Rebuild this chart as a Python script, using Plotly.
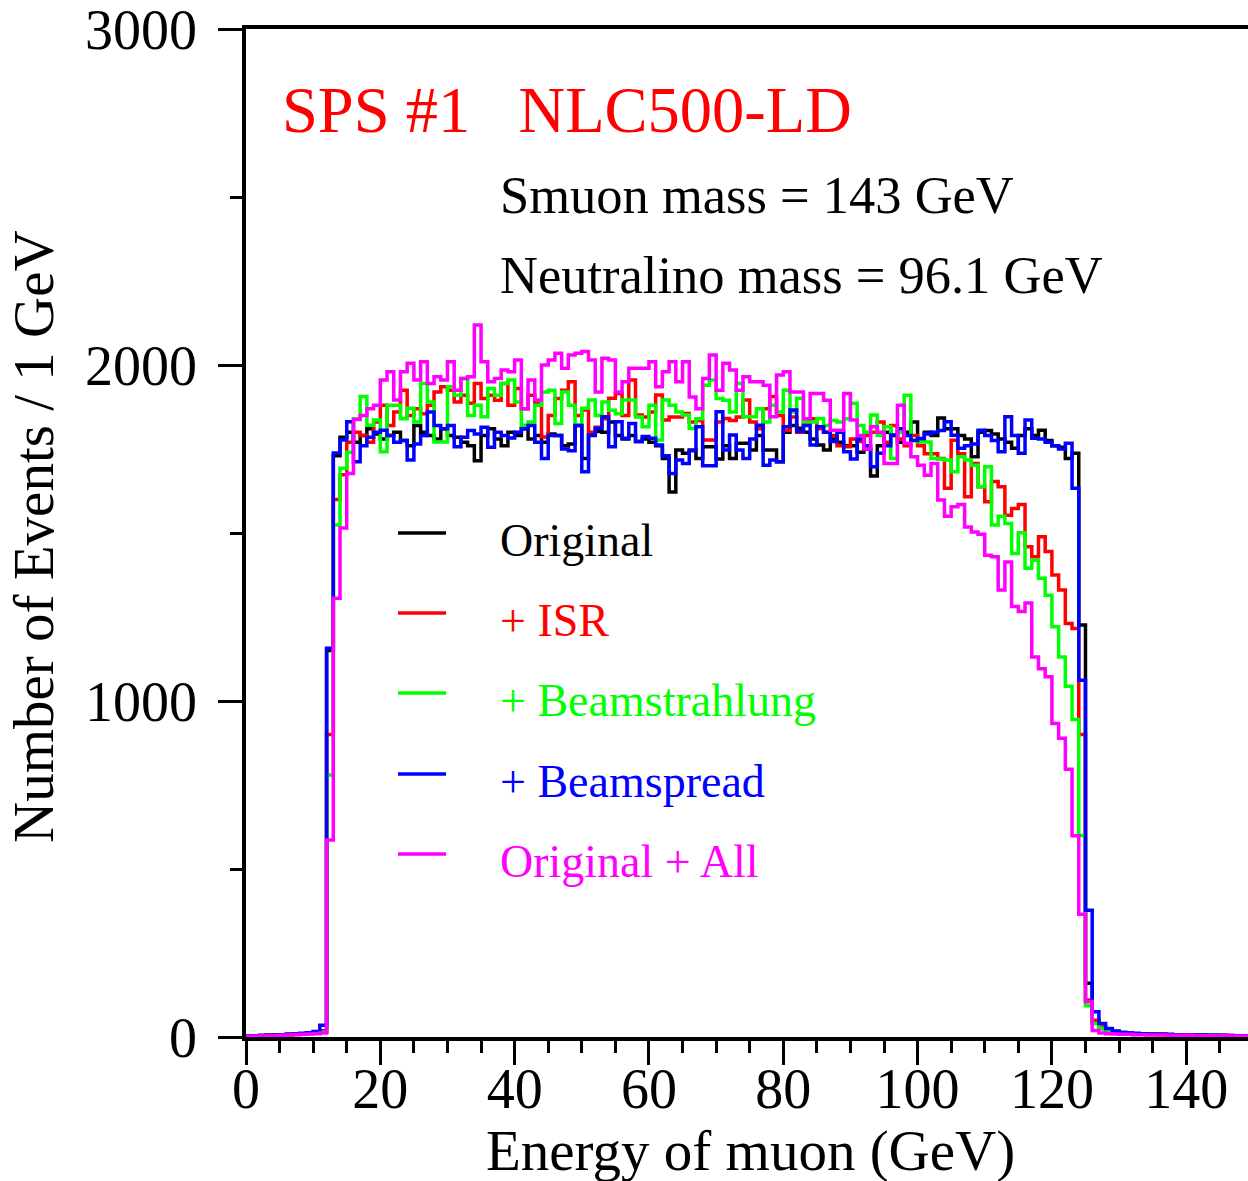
import plotly.graph_objects as go

# 1 GeV bins from 0 to 150 GeV
BIN_EDGES = list(range(0, 151))

SERIES_NAMES = ["Original", "+ ISR", "+ Beamstrahlung", "+ Beamspread", "Original + All"]
SERIES_COLORS = ["#000000", "#ff0000", "#00ff00", "#0000ff", "#ff00ff"]

original = [
    3, 4, 4, 5, 6, 6, 8, 9, 10, 12,
    14, 18, 1150, 1730, 1785, 1800, 1770, 1790, 1810, 1795,
    1780, 1790, 1800, 1775, 1760, 1820, 1800, 1790, 1780, 1810,
    1790, 1785, 1770, 1760, 1715, 1790, 1810, 1780, 1760, 1800,
    1790, 1810, 1780, 1790, 1770, 1795, 1790, 1760, 1765, 1820,
    1722, 1790, 1802, 1800, 1830, 1790, 1780, 1790, 1772, 1780,
    1770, 1760, 1722, 1622, 1747, 1737, 1747, 1722, 1757, 1757,
    1720, 1760, 1722, 1767, 1767, 1747, 1790, 1747, 1747, 1712,
    1800, 1820, 1812, 1800, 1780, 1762, 1747, 1780, 1770, 1760,
    1760, 1740, 1750, 1670, 1760, 1800, 1790, 1770, 1800, 1830,
    1780, 1800, 1790, 1842, 1810, 1810, 1790, 1780, 1727, 1800,
    1805, 1795, 1780, 1770, 1752, 1790, 1810, 1790, 1806, 1775,
    1760, 1755, 1722, 1737, 1226, 160, 45, 25, 18, 15,
    12, 11, 10, 9, 9, 8, 8, 7, 7, 6,
    6, 6, 5, 5, 5, 4, 4, 4, 4, 3,
]

isr = [
    3, 3, 4, 5, 5, 6, 7, 8, 9, 11,
    13, 15, 900, 1600, 1673, 1770, 1800, 1790, 1770, 1830,
    1880, 1820, 1860, 1925, 1850, 1870, 1855, 1880, 1920, 1935,
    1925, 1890, 1910, 1886, 1945, 1900, 1910, 1895, 1945, 1880,
    1930, 1870, 1910, 1886, 1786, 1850, 1900, 1925, 1950, 1850,
    1866, 1800, 1815, 1840, 1901, 1915, 1850, 1955, 1851, 1845,
    1860, 1911, 1836, 1845, 1845, 1856, 1830, 1835, 1777, 1777,
    1830, 1841, 1835, 1845, 1896, 1830, 1810, 1870, 1906, 1850,
    1806, 1845, 1800, 1830, 1840, 1810, 1800, 1790, 1760, 1757,
    1780, 1772, 1790, 1800, 1830, 1770, 1820, 1780, 1760, 1790,
    1760, 1736, 1736, 1722, 1633, 1776, 1736, 1608, 1707, 1638,
    1593, 1653, 1638, 1553, 1573, 1585, 1459, 1429, 1489, 1445,
    1375, 1330, 1231, 1216, 900, 110, 50, 30, 20, 16,
    13, 11, 10, 9, 9, 8, 8, 7, 7, 7,
    6, 6, 6, 5, 5, 5, 5, 4, 4, 4,
]

beamstrahlung = [
    3, 3, 4, 4, 5, 6, 7, 8, 9, 10,
    12, 14, 780, 1524, 1693, 1740, 1840, 1906, 1821, 1836,
    1742, 1880, 1880, 1840, 1871, 1830, 1945, 1890, 1771, 1771,
    1935, 1910, 1960, 1850, 1880, 1846, 1930, 1910, 1945, 1955,
    1890, 1821, 1830, 1880, 1920, 1925, 1826, 1920, 1880, 1821,
    1871, 1896, 1850, 1890, 1865, 1855, 1896, 1896, 1845, 1816,
    1880, 1777, 1896, 1880, 1860, 1851, 1811, 1840, 1940, 1955,
    1900, 1895, 1860, 1945, 1846, 1846, 1870, 1830, 1880, 1860,
    1925, 1860, 1901, 1830, 1830, 1841, 1820, 1835, 1830, 1840,
    1886, 1820, 1800, 1851, 1791, 1816, 1722, 1800, 1910, 1776,
    1771, 1771, 1722, 1720, 1717, 1682, 1727, 1717, 1702, 1638,
    1697, 1524, 1550, 1528, 1439, 1501, 1395, 1419, 1365, 1315,
    1221, 1131, 1044, 945, 600, 93, 40, 25, 18, 14,
    12, 10, 9, 9, 8, 8, 7, 7, 6, 6,
    6, 5, 5, 5, 5, 4, 4, 4, 4, 3,
]

beamspread = [
    3, 4, 5, 5, 6, 7, 8, 9, 11, 13,
    16, 35, 1157, 1738, 1777, 1831, 1712, 1760, 1785, 1800,
    1806, 1790, 1770, 1775, 1717, 1765, 1790, 1860, 1820, 1810,
    1820, 1757, 1785, 1805, 1795, 1815, 1755, 1800, 1790, 1783,
    1800, 1810, 1820, 1770, 1722, 1790, 1790, 1750, 1745, 1820,
    1682, 1792, 1812, 1846, 1757, 1831, 1782, 1826, 1772, 1787,
    1782, 1762, 1730, 1677, 1717, 1707, 1745, 1816, 1700, 1700,
    1861, 1747, 1792, 1747, 1722, 1780, 1821, 1702, 1717, 1712,
    1816, 1866, 1802, 1820, 1762, 1816, 1800, 1772, 1800, 1742,
    1720, 1780, 1760, 1697, 1737, 1760, 1792, 1810, 1790, 1775,
    1781, 1795, 1800, 1805, 1831, 1791, 1752, 1760, 1765, 1806,
    1790, 1775, 1742, 1846, 1790, 1737, 1836, 1782, 1780, 1770,
    1760, 1750, 1767, 1633, 1062, 377, 75, 40, 25, 18,
    14, 12, 11, 10, 9, 9, 8, 8, 7, 7,
    6, 6, 6, 5, 5, 5, 4, 4, 4, 4,
]

original_all = [
    2, 3, 3, 4, 4, 5, 6, 7, 8, 9,
    10, 12, 586, 1306, 1515, 1677, 1838, 1850, 1870, 1880,
    1955, 1980, 1896, 1980, 2005, 1955, 2010, 1945, 1965, 1955,
    2010, 1925, 1960, 1965, 2119, 2010, 1950, 1960, 1985, 1980,
    2015, 1870, 1955, 1896, 2000, 2015, 2035, 1990, 2030, 2035,
    2040, 2015, 1920, 2020, 2015, 1920, 1950, 1990, 1990, 1990,
    2010, 1935, 1980, 2010, 1950, 2010, 1905, 1870, 1960, 2030,
    1925, 2005, 1985, 1925, 1965, 1950, 1950, 1940, 1846, 1970,
    1980, 1920, 1920, 1840, 1915, 1915, 1895, 1806, 1806, 1915,
    1836, 1790, 1750, 1816, 1800, 1707, 1707, 1880, 1767, 1727,
    1702, 1672, 1707, 1598, 1550, 1578, 1585, 1518, 1503, 1496,
    1434, 1429, 1330, 1414, 1281, 1266, 1292, 1131, 1096, 1072,
    933, 889, 797, 599, 365, 105, 19, 12, 10, 9,
    8, 8, 7, 7, 6, 6, 6, 5, 5, 5,
    5, 4, 4, 4, 4, 4, 3, 3, 3, 3,
]

SERIES_VALUES = [original, isr, beamstrahlung, beamspread, original_all]

# page is 1248 x 1181; body margin is zeroed so the figure fills the page
W, H = 1248, 1181
# plot frame in page pixels
PLOT_L, PLOT_R, PLOT_T, PLOT_B = 246, 1248, 29, 1037
FONT = "Liberation Serif"


def px_x(p):
    return (p - PLOT_L) / (PLOT_R - PLOT_L)


def px_y(p):
    return (PLOT_B - p) / (PLOT_B - PLOT_T)


fig = go.Figure()
for name, color, values in zip(SERIES_NAMES, SERIES_COLORS, SERIES_VALUES):
    fig.add_trace(
        go.Scatter(
            x=BIN_EDGES,
            y=values + [values[-1]],
            mode="lines",
            line=dict(color=color, width=3.5, shape="hv"),
            name=name,
            showlegend=False,
        )
    )

annotations = [
    dict(text="SPS #1\u00a0\u00a0\u00a0NLC500-LD", x=px_x(280), y=px_y(110),
         font=dict(size=64.5, color="#ff0000")),
    dict(text="Smuon mass = 143 GeV", x=px_x(498), y=px_y(195),
         font=dict(size=52.5, color="black")),
    dict(text="Neutralino mass = 96.1 GeV", x=px_x(498), y=px_y(275),
         font=dict(size=52.5, color="black")),
    # axis titles
    dict(text="Energy of muon (GeV)", x=px_x(750), y=px_y(1151), xanchor="center",
         font=dict(size=57, color="black")),
    dict(text="Number of Events / 1 GeV", x=px_x(33), y=px_y(537), xanchor="center",
         textangle=-90, font=dict(size=57, color="black")),
]
shapes = []
legend_rows = [540, 620, 700, 781, 861]
for name, color, row in zip(SERIES_NAMES, SERIES_COLORS, legend_rows):
    annotations.append(
        dict(text=name, x=px_x(498), y=px_y(row), font=dict(size=46, color=color))
    )
    shapes.append(
        dict(type="line", xref="paper", yref="paper",
             x0=px_x(398), x1=px_x(446), y0=px_y(row - 7), y1=px_y(row - 7),
             line=dict(color=color, width=3.5))
    )

for a in annotations:
    a.setdefault("xanchor", "left")
    a.update(xref="paper", yref="paper", yanchor="middle", showarrow=False)
    a["font"]["family"] = FONT

tick_font = dict(family=FONT, size=56, color="black")
fig.update_layout(
    width=W,
    height=H,
    paper_bgcolor="white",
    plot_bgcolor="white",
    font=dict(family=FONT, color="black"),
    margin=dict(l=PLOT_L, r=W - PLOT_R, t=PLOT_T, b=H - PLOT_B, autoexpand=False),
    showlegend=False,
    annotations=annotations,
    shapes=shapes,
    xaxis=dict(
        range=[0, 149.2], automargin=False,
        showline=True, linecolor="black", linewidth=3.5, mirror=True,
        showgrid=False, zeroline=False,
        ticks="outside", dtick=20, tick0=0, ticklen=24, tickwidth=2.5, tickcolor="black",
        minor=dict(dtick=5, ticks="outside", ticklen=12, tickwidth=2.5, tickcolor="black"),
        tickfont=tick_font, ticklabelstandoff=-24, ticklabeloverflow="allow",
    ),
    yaxis=dict(
        range=[0, 3000], automargin=False,
        showline=True, linecolor="black", linewidth=3.5,
        showgrid=False, zeroline=False,
        ticks="outside", dtick=1000, tick0=0, ticklen=24, tickwidth=2.5, tickcolor="black",
        minor=dict(dtick=500, ticks="outside", ticklen=12, tickwidth=2.5, tickcolor="black"),
        tickfont=tick_font, ticklabelstandoff=10, ticklabeloverflow="allow",
    ),
)

fig.write_html(
    "out.html",
    config={"displayModeBar": False},
    post_script="document.body.style.margin='0';document.body.style.overflow='hidden';",
)
